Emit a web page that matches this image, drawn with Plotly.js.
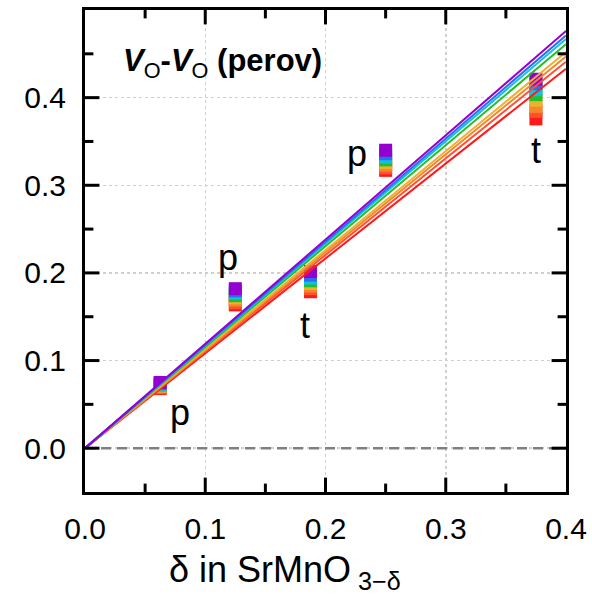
<!DOCTYPE html>
<html>
<head>
<meta charset="utf-8">
<script src="https://cdn.plot.ly/plotly-3.0.1.min.js"></script>
<style>html,body{margin:0;padding:0;background:#fff;}#chart{width:592px;height:602px;}</style>
</head>
<body>
<div id="chart"></div>
<script>
// colours, red -> violet
const seriesColors = ['#ff1a1a', '#ff5030', '#f5862a', '#eeb030', '#22c022', '#10c0e0', '#2a6ef0', '#9400d0'];
// delta positions of the calculated configurations
const deltaValues = [0.0625, 0.125, 0.1875, 0.25, 0.375];
// energies per series (red -> violet), one value per delta
const energyRed       = [0.068, 0.1635, 0.1785, 0.317, 0.3757];
const energyOrangeRed = [0.069, 0.166, 0.182, 0.320, 0.3845];
const energyOrange    = [0.070, 0.169, 0.185, 0.323, 0.390];
const energyYellow    = [0.071, 0.1715, 0.188, 0.326, 0.397];
const energyGreen     = [0.072, 0.174, 0.191, 0.329, 0.4035];
const energyCyan      = [0.073, 0.177, 0.194, 0.332, 0.409];
const energyBlue      = [0.074, 0.1795, 0.1975, 0.336, 0.416];
const energyViolet    = [0.075, 0.182, 0.2015, 0.340, 0.421];
const energies = [energyRed, energyOrangeRed, energyOrange, energyYellow, energyGreen, energyCyan, energyBlue, energyViolet];
// linear fit value reached at delta = 0.4 (lines through origin)
const fitAtEnd = [0.433, 0.441, 0.447, 0.452, 0.461, 0.467, 0.471, 0.476];
const fitX = [0, 0.4];
// labels
const labelText = ['p', 'p', 't', 'p', 't'];
const labelX = [0.079, 0.119, 0.183, 0.226, 0.375];
const labelY = [0.041, 0.218, 0.140, 0.336, 0.340];
// axis ranges and tick positions
const xRange = [0, 0.4];
const yRange = [-0.05, 0.5];
const xMajorTicks = [0.1, 0.2, 0.3];
const xMinorTicks = [0.05, 0.15, 0.25, 0.35];
const yMajorTicks = [0.0, 0.1, 0.2, 0.3, 0.4];
const yMinorTicks = [0.05, 0.15, 0.25, 0.35, 0.45];

const FONT = 'Liberation Sans, Arial, sans-serif';
const W = 592, H = 602, M = {l: 85, r: 26, t: 10, b: 110};
const plotW = W - M.l - M.r, plotH = H - M.t - M.b;
const xPerPx = (xRange[1] - xRange[0]) / plotW;
const yPerPx = (yRange[1] - yRange[0]) / plotH;

const traces = [];
// zero reference line
traces.push({x: fitX, y: [0, 0], mode: 'lines', line: {color: '#808080', width: 2.5, dash: '10px,6px'}, hoverinfo: 'skip', showlegend: false});
energies.forEach((e, i) => {
  traces.push({x: deltaValues, y: e, mode: 'markers', type: 'scatter', showlegend: false,
    marker: {symbol: 'square', size: 13, color: seriesColors[i], line: {width: 0}}});
});
fitAtEnd.forEach((v, i) => {
  traces.push({x: fitX, y: [0, v], mode: 'lines', type: 'scatter', showlegend: false,
    line: {color: seriesColors[i], width: 2}});
});

// inward tick marks drawn as line-shaped markers, centred half a tick length inside the frame
function tickTrace(vals, px, vertical) {
  const x = [], y = [];
  vals.forEach(v => {
    if (vertical) {
      const d = (px / 2) * yPerPx;
      x.push(v, v); y.push(yRange[0] + d, yRange[1] - d);
    } else {
      const d = (px / 2) * xPerPx;
      y.push(v, v); x.push(xRange[0] + d, xRange[1] - d);
    }
  });
  return {x: x, y: y, mode: 'markers', type: 'scatter', showlegend: false, hoverinfo: 'skip', cliponaxis: false,
    marker: {symbol: vertical ? 'line-ns' : 'line-ew', size: px, color: '#000', line: {color: '#000', width: 3}}};
}
traces.push(tickTrace(xMajorTicks, 12, true));
traces.push(tickTrace(xMinorTicks, 7, true));
traces.push(tickTrace(yMajorTicks, 12, false));
traces.push(tickTrace(yMinorTicks, 7, false));

const annotations = labelText.map((t, i) => ({x: labelX[i], y: labelY[i], xref: 'x', yref: 'y', text: t, showarrow: false,
  font: {family: FONT, size: 36, color: '#000'}}));
annotations.push({x: 0.03, y: 0.439, xref: 'x', yref: 'y', xanchor: 'left', yanchor: 'middle', showarrow: false,
  text: '<b><i>V</i></b><sub>O</sub><b>-<i>V</i></b><sub>O</sub><b> (perov)</b>',
  font: {family: FONT, size: 31, color: '#000'}});
annotations.push({x: 0.17, y: -0.115, xref: 'paper', yref: 'paper', xanchor: 'left', yanchor: 'top', showarrow: false,
  text: 'δ in SrMnO<sub> 3−δ</sub>', font: {family: FONT, size: 36, color: '#000'}});

const axisCommon = {
  showline: true, linecolor: '#000', linewidth: 3, mirror: true,
  ticks: '',
  showgrid: true, gridcolor: '#cfcfcf', griddash: 'dot', gridwidth: 1.5,
  zeroline: false,
  tickfont: {family: FONT, size: 30, color: '#000'},
  tickformat: '.1f',
  dtick: 0.1, tick0: 0
};

const layout = {
  width: W, height: H,
  margin: M,
  paper_bgcolor: '#fff', plot_bgcolor: '#fff',
  xaxis: Object.assign({}, axisCommon, {range: xRange, ticklabelstandoff: 8}),
  yaxis: Object.assign({}, axisCommon, {range: yRange, ticklabelstandoff: 10}),
  annotations: annotations,
  showlegend: false
};

Plotly.newPlot('chart', traces, layout, {displayModeBar: false, staticPlot: true});
</script>
</body>
</html>
